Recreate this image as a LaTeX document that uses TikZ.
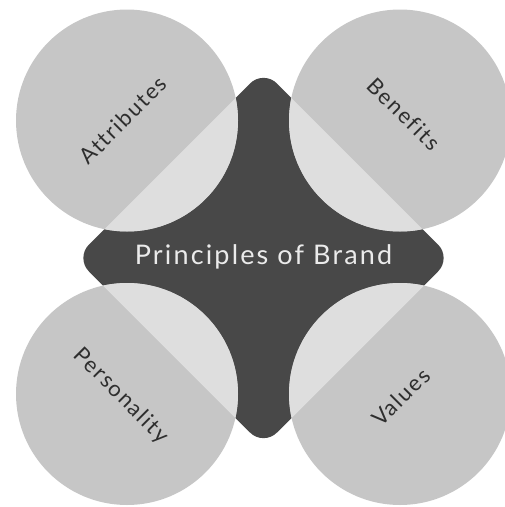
\documentclass[tikz,border=0pt]{standalone}
\usepackage{fontspec}
\setmainfont{Lato}
\newfontfamily\spaced{Lato}[LetterSpace=8,Ligatures=NoCommon]
\definecolor{circgray}{HTML}{C6C6C6}
\definecolor{lapgray}{HTML}{DEDEDE}
\definecolor{darkgray}{HTML}{484848}
\definecolor{labelink}{HTML}{2E2E2E}
\begin{document}
\begin{tikzpicture}[x=1pt,y=-1pt,
  circ/.style={fill=circgray,draw=none},
  lap/.style={fill=lapgray,draw=none},
  lbl/.style={font=\spaced\fontsize{22}{26}\selectfont,text=labelink,inner sep=0pt},
  title/.style={font=\spaced\fontsize{27}{32}\selectfont,text=white!92!black,inner sep=0pt}]
\useasboundingbox (0,0) rectangle (505,507);
\clip (0,0) rectangle (505,507);
\def\dpath{(263.5,70) -- (451.5,258) -- (263.5,446) -- (75.5,258) -- cycle}
\fill[darkgray,rounded corners=19pt] \dpath;
\coordinate (ctl) at (127,120.5);
\coordinate (ctr) at (400,120.5);
\coordinate (cbl) at (127,394);
\coordinate (cbr) at (400,394);
\foreach \c in {ctl,ctr,cbl,cbr} \fill[circ] (\c) circle[radius=111];
\begin{scope}
  \clip[rounded corners=19pt] \dpath;
  \foreach \c in {ctl,ctr,cbl,cbr} \fill[lap] (\c) circle[radius=111];
\end{scope}
\node[title] (main) at (263.5,257) {Principles of Brand};
\node[lbl,rotate=45] (attr) at (123,120) {Attributes};
\node[lbl,rotate=-45] (bene) at (404,114) {Benefits};
\node[lbl,rotate=-45] (pers) at (121,396) {Personality};
\node[lbl,rotate=45] (vals) at (401,397) {Values};
\end{tikzpicture}
\end{document}
